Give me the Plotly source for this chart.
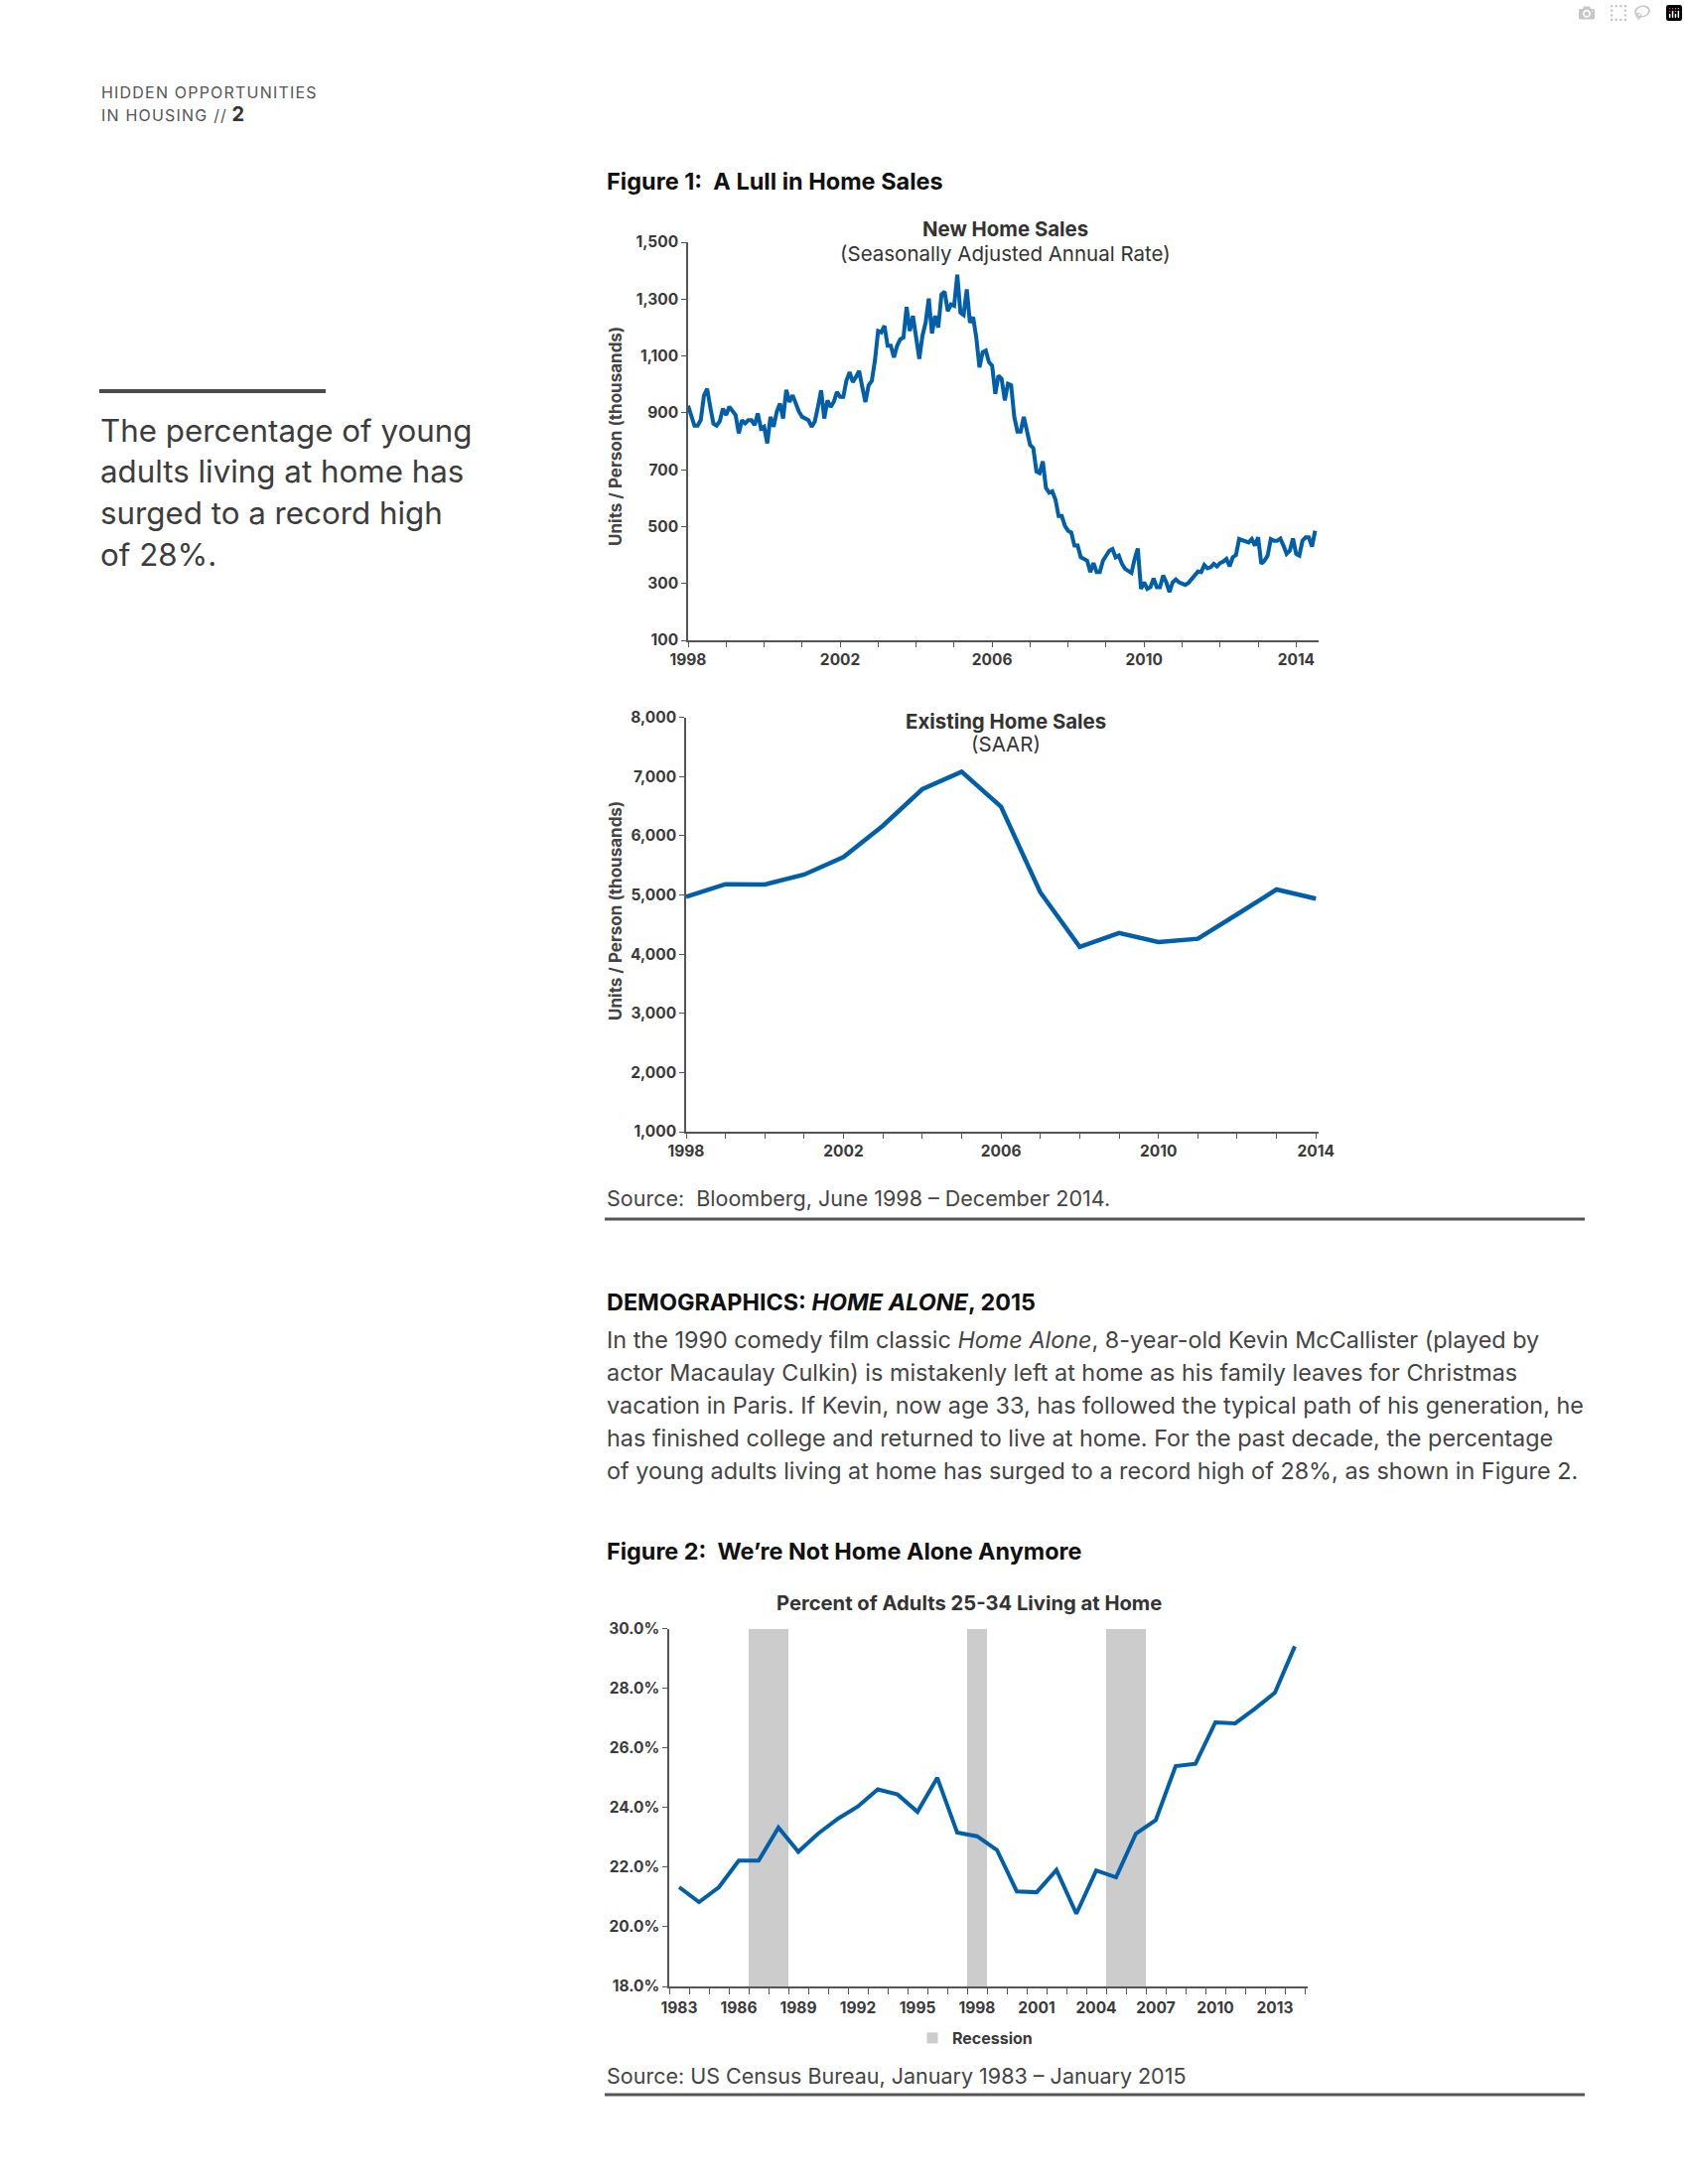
import numpy as np
import pandas as pd
import plotly.graph_objects as go

W, H = 1700, 2200

# ---------------- DATA ----------------
# Figure 1a: New home sales, SAAR (thousands), monthly Jun 1998 - Dec 2014
new_home_sales = [
    925, 890, 855, 855, 875, 960, 985, 920, 862, 855, 870, 915,
    892, 921, 904, 892, 828, 874, 863, 874, 874, 857, 898, 845,
    851, 793, 886, 851, 904, 933, 880, 981, 938, 962, 933, 904,
    886, 880, 874, 851, 869, 921, 979, 880, 944, 921, 938, 973,
    956, 956, 1014, 1043, 1008, 1026, 1047, 991, 938, 997, 1012, 1084,
    1188, 1183, 1206, 1136, 1136, 1095, 1136, 1159, 1165, 1272, 1188, 1241,
    1171, 1090, 1171, 1217, 1302, 1179, 1241, 1200, 1316, 1326, 1258, 1281,
    1276, 1386, 1252, 1244, 1334, 1217, 1236, 1165, 1060, 1113, 1119, 1078,
    1066, 967, 1031, 1019, 944, 1002, 997,
    886, 834, 834, 886, 828, 787, 776, 694, 688, 729,
    636, 619, 624, 595, 537, 537, 502, 485, 479, 433,
    433, 392, 386, 380, 340, 372, 340, 340, 380, 398,
    415, 421, 392, 398, 369, 351, 345, 337, 386, 423,
    281, 304, 281, 287, 318, 287, 287, 328, 304, 270,
    304, 314, 304, 299, 295, 302, 314, 328, 342, 340,
    365, 353, 357, 369, 360, 372, 377, 386, 360, 392,
    400, 456, 452, 450, 444, 456, 433, 462, 369, 380, 398,
    456, 450, 450, 458, 433, 404, 415, 458, 404, 398,
    450, 462, 462, 430, 485,
]
new_home_start = "1998-06-01"
new_home_label_years = [1998, 2002, 2006, 2010, 2014]

# Figure 1b: Existing home sales (thousands), annual
existing_years = list(range(1998, 2015))
existing_home_sales = [4970, 5183, 5177, 5345, 5641, 6172, 6787, 7083, 6491,
                       5043, 4121, 4356, 4205, 4260, 4674, 5093, 4937]
existing_label_years = [1998, 2002, 2006, 2010, 2014]

# Figure 2: Percent of adults 25-34 living at home
pct_years = list(range(1983, 2015))
pct_home = [21.33, 20.83, 21.33, 22.22, 22.22, 23.33, 22.52, 23.13, 23.63, 24.04,
            24.61, 24.44, 23.86, 25.00, 23.16, 23.04, 22.58, 21.19, 21.16, 21.91,
            20.44, 21.89, 21.66, 23.13, 23.58, 25.39, 25.47, 26.86, 26.83, 27.32,
            27.86, 29.41]
pct_label_years = list(range(1983, 2014, 3))
recession_spans = [(1987, 1988), (1998, 1998), (2005, 2006)]

# ---------------- STYLE ----------------
FONT = "Inter, Roboto, 'Liberation Sans', Arial, sans-serif"
BLUE = "#005FA8"
AXIS = "#555555"
TXT = "#3a3a3a"


def px_x(p):
    return p / W


def px_y(p):
    return 1 - p / H


dates = pd.date_range(new_home_start, periods=len(new_home_sales), freq="MS")
month_idx = np.arange(len(new_home_sales))
nh_tickvals = [int(np.where((dates.year == y) & (dates.month == 6))[0][0]) for y in new_home_label_years]

fig = go.Figure()

fig.add_trace(go.Scatter(x=month_idx, y=new_home_sales, mode="lines",
                         line=dict(color=BLUE, width=4), xaxis="x", yaxis="y",
                         showlegend=False, customdata=dates.strftime("%b %Y"),
                         hovertemplate="%{customdata}: %{y}<extra></extra>"))
fig.add_trace(go.Scatter(x=existing_years, y=existing_home_sales, mode="lines",
                         line=dict(color=BLUE, width=4.5), xaxis="x2", yaxis="y2",
                         showlegend=False))
fig.add_trace(go.Scatter(x=pct_years, y=pct_home, mode="lines",
                         line=dict(color=BLUE, width=4), xaxis="x3", yaxis="y3",
                         showlegend=False))
fig.add_trace(go.Scatter(x=[None], y=[None], mode="markers", name="Recession",
                         marker=dict(symbol="square", size=11, color="#CCCCCC"),
                         xaxis="x3", yaxis="y3", showlegend=True))

shapes = []
for a, b in recession_spans:
    shapes.append(dict(type="rect", xref="x3", yref="y3", x0=a - 0.5, x1=b + 0.5,
                       y0=18, y1=30, fillcolor="#CCCCCC", line=dict(width=0), layer="below"))

# page rules
shapes.append(dict(type="line", xref="paper", yref="paper", x0=px_x(100), x1=px_x(328),
                   y0=px_y(394), y1=px_y(394), line=dict(color="#4a4a4a", width=4)))
shapes.append(dict(type="line", xref="paper", yref="paper", x0=px_x(609), x1=px_x(1596),
                   y0=px_y(1228), y1=px_y(1228), line=dict(color="#555555", width=3)))
shapes.append(dict(type="line", xref="paper", yref="paper", x0=px_x(609), x1=px_x(1596),
                   y0=px_y(2110), y1=px_y(2110), line=dict(color="#555555", width=3)))

tickfont = dict(family=FONT, size=15.5, color=TXT, weight="bold")
axis_common = dict(showline=True, linecolor=AXIS, linewidth=1.5, showgrid=False,
                   zeroline=False, ticks="outside", ticklen=5, tickcolor=AXIS,
                   tickwidth=1.3, tickfont=tickfont, fixedrange=True, automargin=False)

fig.update_layout(
    width=W, height=H, margin=dict(l=0, r=0, t=0, b=0, pad=0, autoexpand=False),
    paper_bgcolor="white", plot_bgcolor="rgba(0,0,0,0)",
    font=dict(family=FONT, color=TXT),
    xaxis=dict(domain=[px_x(693), px_x(1328)], range=[0, 199.1], anchor="y",
               tickmode="array", tickvals=nh_tickvals,
               ticktext=[str(y) for y in new_home_label_years],
               minor=dict(ticks="outside", tick0=0, dtick=12, ticklen=5,
                          tickcolor=AXIS, tickwidth=1.3),
               **axis_common),
    yaxis=dict(domain=[px_y(645), px_y(244)], range=[100, 1500], anchor="x",
               tickmode="linear", tick0=100, dtick=200, tickformat=",", **axis_common),
    xaxis2=dict(domain=[px_x(691), px_x(1328)], range=[1998, 2014.07], anchor="y2",
                tickmode="array", tickvals=existing_label_years,
                ticktext=[str(y) for y in existing_label_years],
                minor=dict(ticks="outside", tick0=1998, dtick=1, ticklen=5,
                           tickcolor=AXIS, tickwidth=1.3),
                **axis_common),
    yaxis2=dict(domain=[px_y(1140), px_y(722.7)], range=[1000, 8000], anchor="x2",
                tickmode="linear", tick0=1000, dtick=1000, tickformat=",", **axis_common),
    xaxis3=dict(domain=[px_x(674), px_x(1317)], range=[1982.5, 2014.65], anchor="y3",
                tickmode="array", tickvals=pct_label_years,
                ticktext=[str(y) for y in pct_label_years],
                minor=dict(ticks="outside", tick0=1982.5, dtick=1, ticklen=6,
                           tickcolor=AXIS, tickwidth=1.3),
                **{k: v for k, v in axis_common.items() if k not in ("ticks", "ticklen")},
                ticks="", ticklen=0, ticklabelstandoff=7),
    yaxis3=dict(domain=[px_y(2001), px_y(1640.7)], range=[18, 30], anchor="x3",
                tickmode="linear", tick0=18, dtick=2, tickformat=".1f", ticksuffix="%",
                **axis_common),
    shapes=shapes,
    showlegend=True,
    legend=dict(orientation="h", x=px_x(982), xanchor="center", y=px_y(2053),
                yanchor="middle", font=dict(family=FONT, size=16, color=TXT, weight="bold"),
                itemwidth=30, bgcolor="rgba(0,0,0,0)"),
)

ann = []


def text(x, y, s, size, color=TXT, xanchor="left", weight="normal", angle=0, family=FONT):
    ann.append(dict(x=px_x(x), y=px_y(y), xref="paper", yref="paper", text=s,
                    showarrow=False, xanchor=xanchor, yanchor="middle", textangle=angle,
                    font=dict(family=family, size=size, color=color, weight=weight)))


LS = "<span style='letter-spacing:1.2px'>{}</span>"

# header
text(100, 93, LS.format("HIDDEN OPPORTUNITIES"), 16, color="#555555")
text(100, 115, LS.format("IN HOUSING //") + " <span style='font-size:20px;color:#333333'><b>2</b></span>",
     16, color="#555555")

# pull quote
for i, line in enumerate(["The percentage of young", "adults living at home has",
                          "surged to a record high", "of 28%."]):
    text(99, 434 + i * 41.5, line, 31.3, color="#3c3c3c")

# figure 1
text(609, 182, "<b>Figure 1:\u00a0 A Lull in Home Sales</b>", 23.5, color="#111111")
text(1012, 231, "<b>New Home Sales</b>", 20.4, color="#333333", xanchor="center")
text(1012, 256, "(Seasonally Adjusted Annual Rate)", 20.5, color="#333333", xanchor="center")
text(620, 440, "Units / Person (thousands)", 17, color="#444444", xanchor="center",
     weight="bold", angle=-90)

text(1013, 726, "<b>Existing Home Sales</b>", 20.4, color="#333333", xanchor="center")
text(1013, 750, "(SAAR)", 20.5, color="#333333", xanchor="center")
text(620, 918, "Units / Person (thousands)", 17, color="#444444", xanchor="center",
     weight="bold", angle=-90)

text(609, 1207, "Source:\u00a0 Bloomberg, June 1998 \u2013 December 2014.", 21.5, color="#444444")

# demographics text
text(609, 1311, "<b>DEMOGRAPHICS: <i>HOME ALONE</i>, 2015</b>", 23.4, color="#111111")
para = [
    "In the 1990 comedy film classic <i>Home Alone</i>, 8-year-old Kevin McCallister (played by",
    "actor Macaulay Culkin) is mistakenly left at home as his family leaves for Christmas",
    "vacation in Paris. If Kevin, now age 33, has followed the typical path of his generation, he",
    "has finished college and returned to live at home. For the past decade, the percentage",
    "of young adults living at home has surged to a record high of 28%, as shown in Figure 2.",
]
for i, line in enumerate(para):
    text(609, 1349 + i * 33.2, line, 23.4, color="#444444")

# figure 2
text(609, 1562, "<b>Figure 2:\u00a0 We\u2019re Not Home Alone Anymore</b>", 23.4, color="#111111")
text(976, 1614, "<b>Percent of Adults 25-34 Living at Home</b>", 20.2, color="#333333",
     xanchor="center")
text(609, 2091, "Source: US Census Bureau, January 1983 \u2013 January 2015", 21.5, color="#444444")

fig.update_layout(annotations=ann)

fig.write_html("out.html", post_script="document.body.style.margin='0px';")
